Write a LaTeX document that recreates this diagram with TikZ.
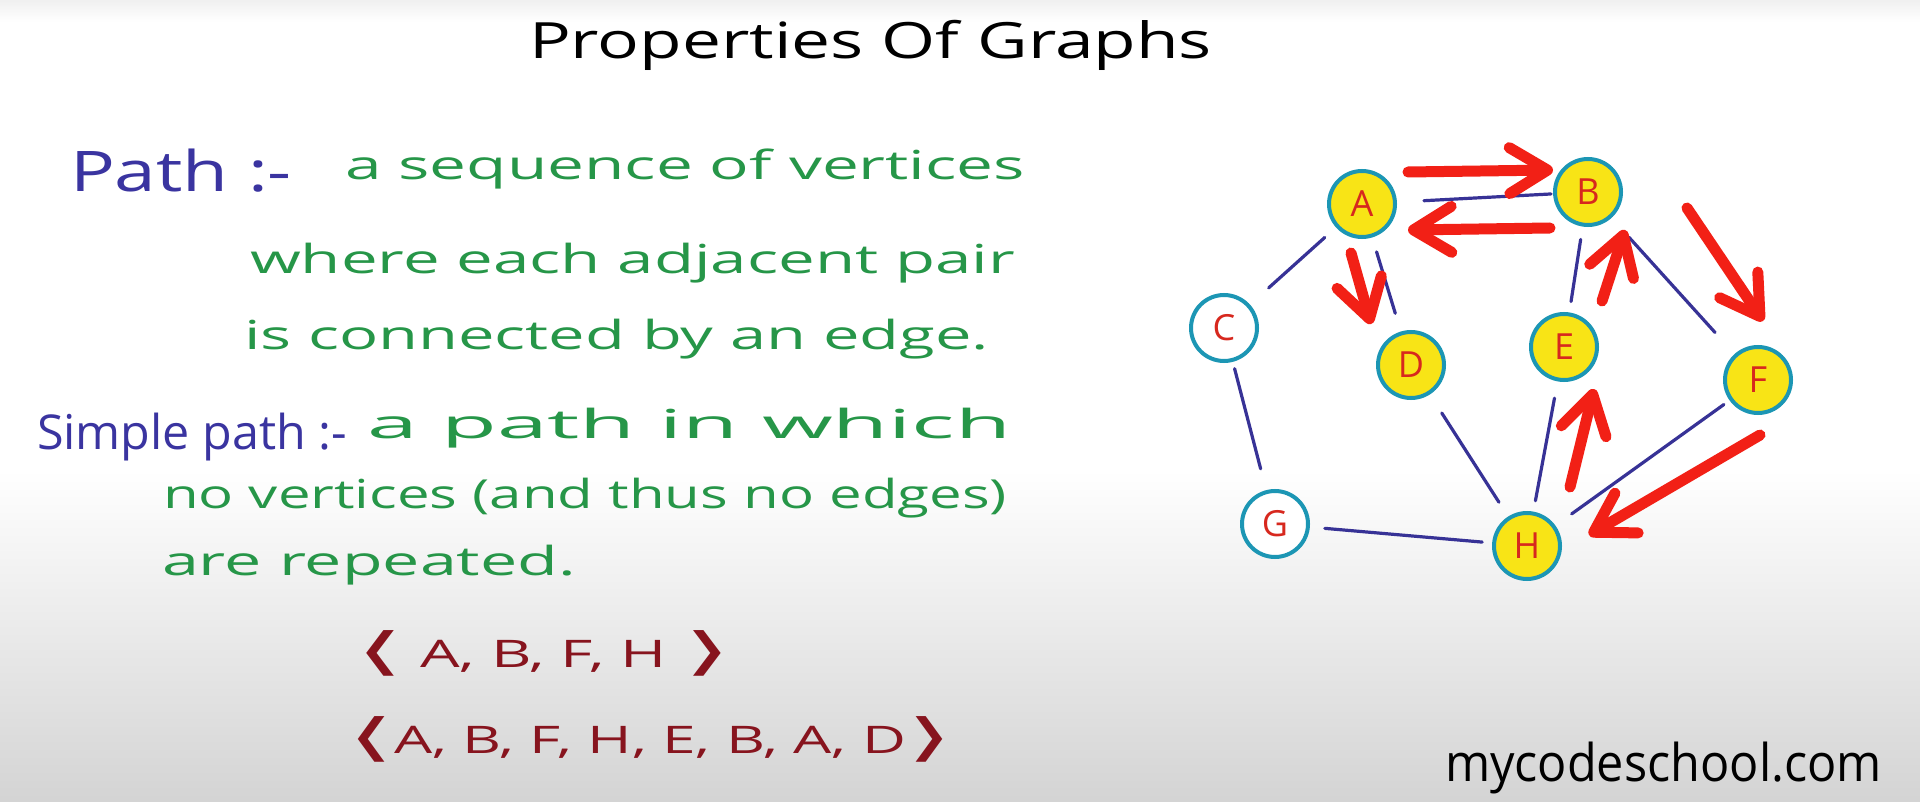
\documentclass[tikz,border=0pt]{standalone}
\usepackage{fontspec}
\setmainfont{Open Sans}
\newfontfamily\dejavu{DejaVu Sans}
\usetikzlibrary{arrows.meta}
\definecolor{tblue}{RGB}{58,52,160}
\definecolor{tgreen}{RGB}{38,150,72}
\definecolor{tred}{RGB}{135,20,30}
\definecolor{arrowred}{RGB}{242,32,22}
\definecolor{nodeyellow}{RGB}{248,228,22}
\definecolor{nodeteal}{RGB}{28,150,180}
\definecolor{edgeblue}{RGB}{55,50,150}
\definecolor{labelred}{RGB}{215,40,30}
\newcommand{\fitw}[2]{\resizebox{#1}{\height}{#2}}
\newcommand{\fsz}[1]{\fontsize{#1}{#1}\selectfont}
\newcommand{\lab}{\raisebox{-2pt}{\scalebox{2.0}[1.35]{\dejavu ⟨}}}
\newcommand{\rab}{\raisebox{-2pt}{\scalebox{2.0}[1.35]{\dejavu ⟩}}}
\begin{document}
\begin{tikzpicture}[x=1pt,y=-1pt,
  txt/.style={anchor=base west, inner sep=0pt, outer sep=0pt},
  vtx/.style={circle, minimum size=66pt, inner sep=0pt, draw=nodeteal, line width=4pt, fill=nodeyellow, text=labelred, font=\fsz{36}},
  wvtx/.style={vtx, fill=white},
  gedge/.style={draw=edgeblue, line width=3.2pt, line cap=round},
  redarrow/.style={draw=arrowred, line width=11pt, line cap=round, line join=round, -{Straight Barb[length=38pt,width=46pt,round]}},
]
\fill[white] (0,0) rectangle (1920,802);
\shade[top color=white, bottom color=black!17] (0,470) rectangle (1920,802);
\shade[top color=black!6, bottom color=white] (0,0) rectangle (1920,22);
\useasboundingbox (0,0) rectangle (1920,802);

% texts
\node[txt, font=\fsz{50}] (title) at (529,59) {\fitw{683pt}{Properties Of Graphs}};
\node[txt, text=tblue, font=\fsz{56}] (pathlbl) at (70,192) {\fitw{222pt}{Path :-}};
\node[txt, text=tgreen, font=\fsz{40}] (l1) at (345,180) {\fitw{680pt}{a sequence of vertices}};
\node[txt, text=tgreen, font=\fsz{40}] (l2) at (250,274) {\fitw{765pt}{where each adjacent pair}};
\node[txt, text=tgreen, font=\fsz{40}] (l3) at (244,349) {\fitw{745pt}{is connected by an edge.}};
\node[txt, text=tblue, font=\fsz{48}] (simple) at (37,449) {\fitw{310pt}{Simple path :-}};
\node[txt, text=tgreen, font=\fsz{40}] (l4) at (367,438) {\fitw{644pt}{a path in which}};
\node[txt, text=tgreen, font=\fsz{40}] (l5) at (163,508) {\fitw{844pt}{no vertices (and thus no edges)}};
\node[txt, text=tgreen, font=\fsz{40}] (l6) at (162,575) {\fitw{414pt}{are repeated.}};
\node[txt, text=tred, font=\fsz{38}] (p1) at (355,667) {\fitw{377pt}{\lab\ A, B, F, H \rab}};
\node[txt, text=tred, font=\fsz{38}] (p2) at (347,753) {\fitw{606pt}{\lab A, B, F, H, E, B, A, D\rab}};
\node[txt, font=\fsz{52}] (brand) at (1445,781) {\fitw{437pt}{mycodeschool.com}};

% vertices
\node[vtx]  (A) at (1362,204) {A};
\node[vtx]  (B) at (1588,192) {B};
\node[wvtx] (C) at (1224,328) {C};
\node[vtx]  (D) at (1411,365) {D};
\node[vtx]  (E) at (1564,347) {E};
\node[vtx]  (F) at (1758,380) {F};
\node[wvtx] (G) at (1275,524) {G};
\node[vtx]  (H) at (1527,546) {H};

% edges
\draw[gedge, shorten <=27pt, shorten >=2pt]  (A) -- (B);
\draw[gedge, shorten <=15pt, shorten >=25pt] (A) -- (C);
\draw[gedge, shorten <=15pt, shorten >=19pt] (A) -- (D);
\draw[gedge, shorten <=13pt, shorten >=11pt] (B) -- (E);
\draw[gedge, shorten <=26pt, shorten >=29pt] (B) -- (F);
\draw[gedge, shorten <=7pt,  shorten >=22pt] (C) -- (G);
\draw[gedge, shorten <=22pt, shorten >=17pt] (D) -- (H);
\draw[gedge, shorten <=17pt, shorten >=11pt] (E) -- (H);
\draw[gedge, shorten <=7pt,  shorten >=20pt] (F) -- (H);
\draw[gedge, shorten <=15pt, shorten >=10pt] (G) -- (H);

% red path arrows
\coordinate (ab1) at (1408,172); \coordinate (ab2) at (1553,170);
\coordinate (ba1) at (1550,228); \coordinate (ba2) at (1408,230);
\coordinate (ad1) at (1351,253); \coordinate (ad2) at (1371,324);
\coordinate (eb1) at (1602,301); \coordinate (eb2) at (1625,230);
\coordinate (bf1) at (1687,208); \coordinate (bf2) at (1763,321);
\coordinate (he1) at (1570,487); \coordinate (he2) at (1594,389);
\coordinate (fh1) at (1760,435); \coordinate (fh2) at (1589,535);
\draw[redarrow] (ab1) -- (ab2);
\draw[redarrow] (ba1) -- (ba2);
\draw[redarrow] (ad1) -- (ad2);
\draw[redarrow] (eb1) -- (eb2);
\draw[redarrow] (bf1) -- (bf2);
\draw[redarrow] (he1) -- (he2);
\draw[redarrow] (fh1) -- (fh2);
\end{tikzpicture}
\end{document}
